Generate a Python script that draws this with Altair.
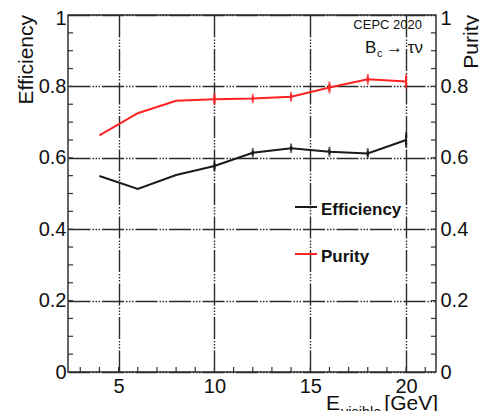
import altair as alt
import pandas as pd

# ---- data ----
energy = [4, 6, 8, 10, 12, 14, 16, 18, 20]
efficiency = [0.549, 0.513, 0.552, 0.577, 0.614, 0.627, 0.617, 0.612, 0.650]
purity = [0.663, 0.725, 0.760, 0.764, 0.766, 0.771, 0.797, 0.820, 0.814]
# error bars only on the points from 10 GeV on
err_energy = [10, 12, 14, 16, 18, 20]
eff_err = [0.008, 0.006, 0.006, 0.007, 0.008, 0.015]
pur_err = [0.010, 0.006, 0.007, 0.010, 0.008, 0.013]

series_names = ["Efficiency", "Purity"]
series_colors = ["#1a1a1a", "#ff2222"]

x_ticks = [5, 10, 15, 20]
y_ticks = [0, 0.2, 0.4, 0.6, 0.8, 1.0]
x_minor = list(range(3, 22))
y_minor = [round(i * 0.05, 2) for i in range(1, 20)]

X_DOMAIN = [2.36, 21.56]
W, H = 368, 357
FONT = "Liberation Sans"
GRID_DASH = [22, 2, 1.5, 1.5, 1.5, 1.5, 1.5, 2]
TOP_LABEL_SHIFT = {"condition": {"test": "datum.value == 1", "value": 3}, "value": 0}

# ---- tables ----
rows = []
for e, ef, pu in zip(energy, efficiency, purity):
    rows.append({"E": e, "val": ef, "series": "Efficiency"})
    rows.append({"E": e, "val": pu, "series": "Purity"})
df = pd.DataFrame(rows)

erows = []
for e, de, dp in zip(err_energy, eff_err, pur_err):
    ef = efficiency[energy.index(e)]
    pu = purity[energy.index(e)]
    erows.append({"E": e, "lo": ef - de, "hi": ef + de, "series": "Efficiency"})
    erows.append({"E": e, "lo": pu - dp, "hi": pu + dp, "series": "Purity"})
edf = pd.DataFrame(erows)

xs = alt.Scale(domain=X_DOMAIN, nice=False, zero=False)
ys = alt.Scale(domain=[0, 1], nice=False, zero=True)
cs = alt.Scale(domain=series_names, range=series_colors)

left_axis = alt.Axis(values=y_ticks, format="~g", title=None, grid=True, ticks=False,
                     domain=False, labelFont=FONT, labelFontSize=20, labelColor="#111",
                     labelPadding=2, gridColor="#2a2a2a", gridWidth=1.4, gridDash=GRID_DASH,
                     labelOffset=TOP_LABEL_SHIFT, orient="left")
right_axis = alt.Axis(values=y_ticks, format="~g", title=None, grid=False, ticks=False,
                      domain=False, labelFont=FONT, labelFontSize=20, labelColor="#111",
                      labelPadding=4, labelOffset=TOP_LABEL_SHIFT, orient="right")
x_axis = alt.Axis(values=x_ticks, title=None, grid=True, ticks=False, domain=False,
                  labelFont=FONT, labelFontSize=20, labelColor="#111", labelPadding=4,
                  gridColor="#2a2a2a", gridWidth=1.4, gridDash=GRID_DASH)

X = alt.X("E:Q", scale=xs, axis=x_axis)

lines = alt.Chart(df).mark_line(strokeWidth=2).encode(
    x=X,
    y=alt.Y("val:Q", scale=ys, axis=left_axis),
    color=alt.Color("series:N", scale=cs, legend=None),
)

right = alt.Chart(df).mark_point(opacity=0).encode(
    x=X,
    y=alt.Y("val:Q", scale=ys, axis=right_axis),
)

ebars = alt.Chart(edf).mark_rule(strokeWidth=2).encode(
    x=X,
    y=alt.Y("lo:Q", scale=ys, axis=None),
    y2="hi:Q",
    color=alt.Color("series:N", scale=cs, legend=None),
)
ecap_lo = alt.Chart(edf).mark_tick(thickness=2, size=5).encode(
    x=X, y=alt.Y("lo:Q", scale=ys, axis=None),
    color=alt.Color("series:N", scale=cs, legend=None),
)
ecap_hi = alt.Chart(edf).mark_tick(thickness=2, size=5).encode(
    x=X, y=alt.Y("hi:Q", scale=ys, axis=None),
    color=alt.Color("series:N", scale=cs, legend=None),
)

# inward ticks (ROOT style)
ymin_df = pd.DataFrame({"v": y_minor})
xmin_df = pd.DataFrame({"v": x_minor})
tick_left = alt.Chart(ymin_df).mark_rule(color="#333", strokeWidth=1.2).encode(
    y=alt.Y("v:Q", scale=ys, axis=None), x=alt.value(0), x2=alt.value(5))
tick_right = alt.Chart(ymin_df).mark_rule(color="#333", strokeWidth=1.2).encode(
    y=alt.Y("v:Q", scale=ys, axis=None), x=alt.value(W), x2=alt.value(W - 5))
tick_bottom = alt.Chart(xmin_df).mark_rule(color="#333", strokeWidth=1.2).encode(
    x=alt.X("v:Q", scale=xs, axis=x_axis), y=alt.value(H), y2=alt.value(H - 5))

# legend (drawn like ROOT's TLegend)
leg = pd.DataFrame({"series": series_names, "i": [0, 1]})
leg_lines = alt.Chart(leg).transform_calculate(py="192 + datum.i * 47").mark_rule(
    strokeWidth=2).encode(
    x=alt.value(227), x2=alt.value(249), y=alt.Y("py:Q", scale=None, axis=None),
    color=alt.Color("series:N", scale=cs, legend=None))
leg_text = alt.Chart(leg).transform_calculate(py="195 + datum.i * 47").mark_text(
    font=FONT, fontSize=17, fontWeight="bold", align="left", baseline="middle",
    color="#111").encode(
    x=alt.value(253), y=alt.Y("py:Q", scale=None, axis=None), text="series:N")

def label(txt, x, y, size, align="left", baseline="alphabetic", angle=0, weight="normal"):
    return alt.Chart(pd.DataFrame({"t": [txt]})).mark_text(
        font=FONT, fontSize=size, align=align, baseline=baseline, angle=angle,
        fontWeight=weight, color="#111").encode(
        text="t:N", x=alt.value(x), y=alt.value(y))

texts = [
    label("CEPC 2020", 354, 14, 13, align="right"),
    label("B", 297, 38, 17),
    label("c", 309, 41.5, 11),
    label("\u2192 \u03c4\u03bd", 318, 38, 17),
    label("E", 272, 395, 21, align="right"),
    label("visible", 273, 401.5, 14.5),
    label("[GeV]", 370, 395, 21, align="right"),
    label("Efficiency", -41, 0, 21, align="right", baseline="middle", angle=270),
    label("Purity", 404, 0, 21, align="right", baseline="middle", angle=270),
]

chart = alt.layer(
    lines, right, tick_left, tick_right, tick_bottom, ebars, ecap_lo, ecap_hi,
    leg_lines, leg_text, *texts
).resolve_axis(y="independent").properties(
    width=W, height=H,
    autosize=alt.AutoSizeParams(type="none"),
    padding={"left": 60, "top": 7, "right": 43, "bottom": 39},
).configure_view(stroke="#333", strokeWidth=1.5)

chart.save("out.html", embed_options={"renderer": "svg", "actions": False})
